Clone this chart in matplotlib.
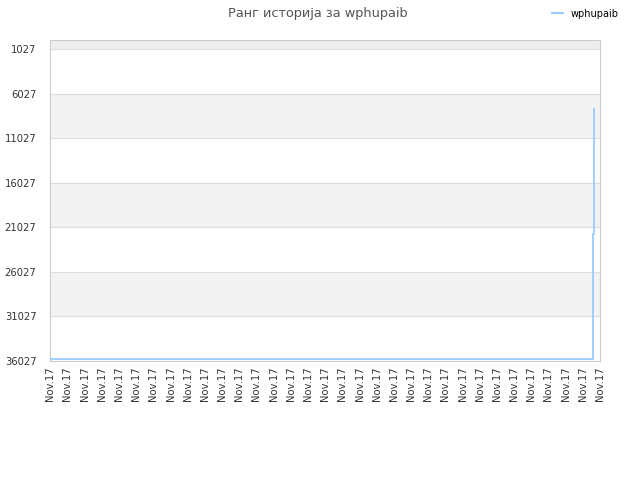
import matplotlib
matplotlib.use('Agg')
import matplotlib.pyplot as plt
from matplotlib.lines import Line2D

title = 'Ранг историја за wphupaib'
series_name = 'wphupaib'

# rank history (x in tick units, one tick per label)
days = [0, 31.59, 31.59, 31.65, 31.65]
ranks = [35900, 35900, 21770, 21770, 7670]

tick_labels = ['Nov.17'] * 33
y_ticks = [1027, 6027, 11027, 16027, 21027, 26027, 31027, 36027]
y_top = 27

plt.rcParams['font.family'] = ['DejaVu Sans']

fig = plt.figure(figsize=(6.4, 4.8), dpi=100)
ax = fig.add_axes([50.3 / 640, 1 - 360.5 / 480, (600 - 50.3) / 640, (360.5 - 40.3) / 480])

# alternating bands between ticks
ax.axhspan(y_top, y_ticks[0], color='#eeeeee', zorder=0, lw=0)
for i in range(len(y_ticks) - 1):
    if i % 2 == 1:
        ax.axhspan(y_ticks[i], y_ticks[i + 1], color='#f3f3f3', zorder=0, lw=0)
for y in y_ticks:
    ax.axhline(y, color='#dddddd', lw=0.8, zorder=1)

ax.plot(days, ranks, color='#99ccff', lw=1.3, zorder=3, solid_capstyle='butt')

ax.set_ylim(y_ticks[-1], y_top)
ax.set_xlim(0, len(tick_labels) - 1)
ax.set_yticks(y_ticks)
ax.set_yticklabels([str(v) for v in y_ticks])
ax.set_xticks(range(len(tick_labels)))
ax.set_xticklabels(tick_labels, rotation=90)
ax.tick_params(axis='both', length=0, labelsize=7.2, colors='#333333')
ax.tick_params(axis='y', pad=10)
ax.tick_params(axis='x', pad=4)

for s in ax.spines.values():
    s.set_color('#cccccc')
    s.set_linewidth(0.8)

fig.text(0.497, 0.986, title, ha='center', va='top', fontsize=9.3, color='#555555')

handle = Line2D([], [], color='#99ccff', lw=1.5)
fig.legend([handle], [series_name], loc='upper right', bbox_to_anchor=(0.98, 1.0),
           frameon=False, fontsize=7, handlelength=1.1, handletextpad=0.8)

fig.savefig('out.png', dpi=100)
